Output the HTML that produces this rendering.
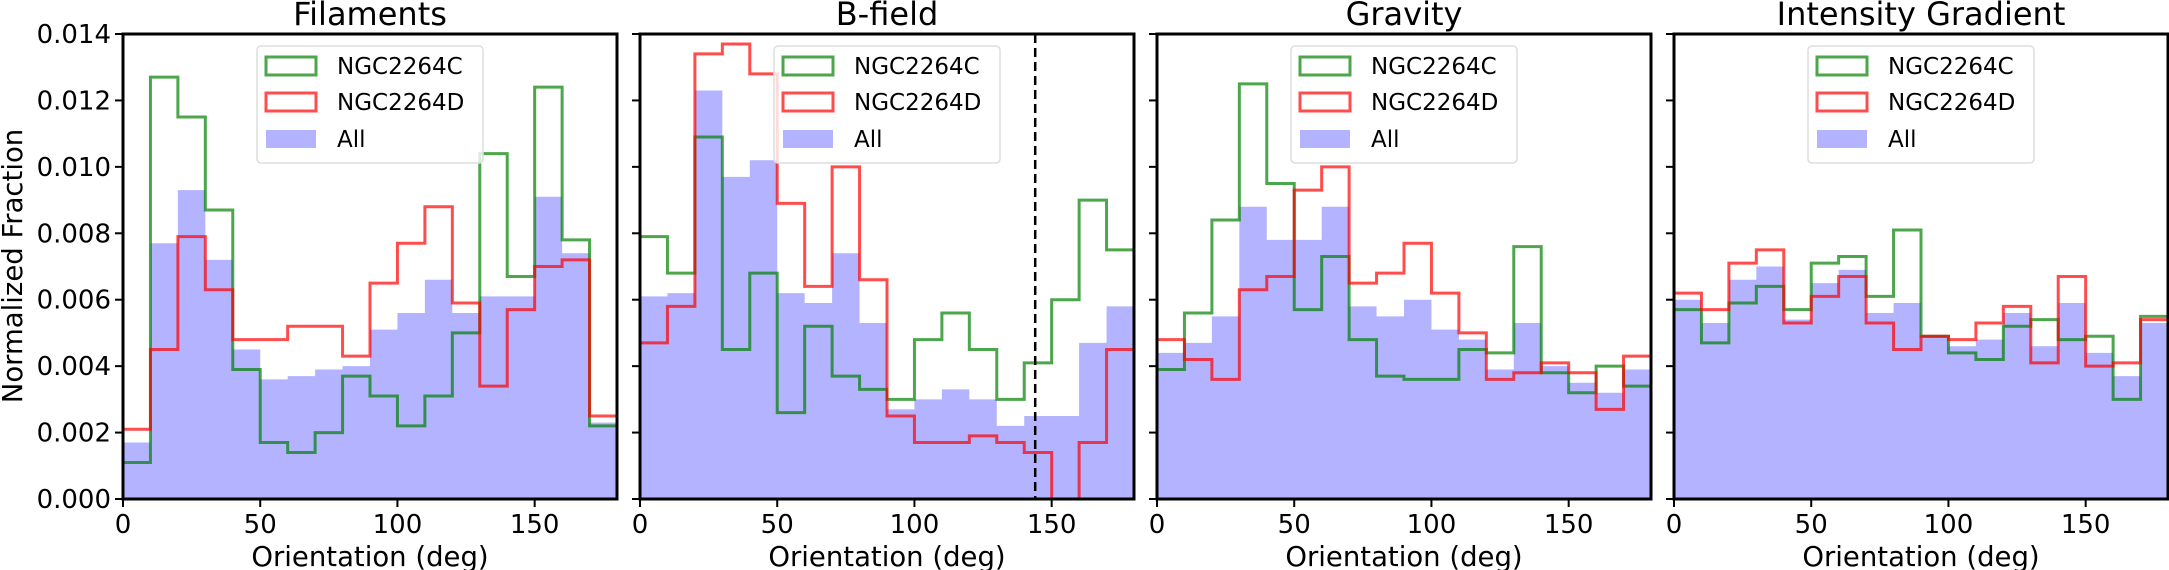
<!DOCTYPE html>
<html><head><meta charset="utf-8"><style>
body{margin:0;background:#fff;}
svg{display:block;font-family:"DejaVu Sans","Liberation Sans",sans-serif;}
</style></head><body>
<svg id="chart" width="2169" height="570" viewBox="0 0 2169 570" xmlns="http://www.w3.org/2000/svg"></svg>
<script>
const panelTitles = ["Filaments","B-field","Gravity","Intensity Gradient"];
const binEdges = [0,10,20,30,40,50,60,70,80,90,100,110,120,130,140,150,160,170,180];
const xTicks = [0,50,100,150];
const yTicks = [0,0.002,0.004,0.006,0.008,0.010,0.012,0.014];
const yTickLabels = ["0.000","0.002","0.004","0.006","0.008","0.010","0.012","0.014"];
const seriesNames = ["NGC2264C","NGC2264D","All"];
const bfieldLine = 144;

const green0 = [0.0011,0.0127,0.0115,0.0087,0.0039,0.0017,0.0014,0.0020,0.0037,0.0031,0.0022,0.0031,0.0050,0.0104,0.0067,0.0124,0.0078,0.0022];
const red0   = [0.0021,0.0045,0.0079,0.0063,0.0048,0.0048,0.0052,0.0052,0.0043,0.0065,0.0077,0.0088,0.0059,0.0034,0.0057,0.0070,0.0072,0.0025];
const all0   = [0.0017,0.0077,0.0093,0.0072,0.0045,0.0036,0.0037,0.0039,0.0040,0.0051,0.0056,0.0066,0.0056,0.0061,0.0061,0.0091,0.0074,0.0023];

const green1 = [0.0079,0.0068,0.0109,0.0045,0.0068,0.0026,0.0052,0.0037,0.0033,0.0030,0.0048,0.0056,0.0045,0.0030,0.0041,0.0060,0.0090,0.0075];
const red1   = [0.0047,0.0058,0.0134,0.0137,0.0128,0.0089,0.0064,0.0100,0.0066,0.0025,0.0017,0.0017,0.0019,0.0017,0.0014,0.0000,0.0017,0.0045];
const all1   = [0.0061,0.0062,0.0123,0.0097,0.0102,0.0062,0.0059,0.0074,0.0053,0.0027,0.0030,0.0033,0.0030,0.0022,0.0025,0.0025,0.0047,0.0058];

const green2 = [0.0039,0.0056,0.0084,0.0125,0.0095,0.0057,0.0073,0.0048,0.0037,0.0036,0.0036,0.0045,0.0044,0.0076,0.0038,0.0032,0.0040,0.0034];
const red2   = [0.0048,0.0042,0.0036,0.0063,0.0067,0.0093,0.0100,0.0065,0.0068,0.0077,0.0062,0.0050,0.0036,0.0038,0.0041,0.0038,0.0027,0.0043];
const all2   = [0.0044,0.0047,0.0055,0.0088,0.0078,0.0078,0.0088,0.0058,0.0055,0.0060,0.0051,0.0048,0.0039,0.0053,0.0040,0.0035,0.0032,0.0039];

const green3 = [0.0057,0.0047,0.0059,0.0064,0.0057,0.0071,0.0073,0.0061,0.0081,0.0049,0.0044,0.0042,0.0052,0.0054,0.0048,0.0049,0.0030,0.0055];
const red3   = [0.0062,0.0057,0.0071,0.0075,0.0053,0.0061,0.0067,0.0053,0.0045,0.0049,0.0048,0.0053,0.0058,0.0041,0.0067,0.0040,0.0041,0.0054];
const all3   = [0.0060,0.0053,0.0066,0.0070,0.0054,0.0065,0.0069,0.0056,0.0059,0.0049,0.0046,0.0048,0.0056,0.0046,0.0059,0.0044,0.0037,0.0053];

const greens=[green0,green1,green2,green3], reds=[red0,red1,red2,red3], alls=[all0,all1,all2,all3];

const NS="http://www.w3.org/2000/svg";
const svg=document.getElementById('chart');
function mk(tag,attrs,parent){const e=document.createElementNS(NS,tag);for(const k in attrs)e.setAttribute(k,attrs[k]);(parent||svg).appendChild(e);return e;}
const panelLeft=[123,640,1157,1674], PW=494, TOP=34, BOT=499;
const YMAX=0.014;

for(let p=0;p<4;p++){
  const L=panelLeft[p];
  const g=mk('g',{});
  
  
  const xs=v=>L+v/180*PW;
  const ys=v=>BOT-v/YMAX*(BOT-TOP);
  let d='M'+xs(0)+','+BOT;
  alls[p].forEach((v,i)=>{d+=' L'+xs(binEdges[i])+','+ys(v)+' L'+xs(binEdges[i+1])+','+ys(v);});
  d+=' L'+xs(180)+','+BOT+' Z';
  const fa=mk('path',{d:d,fill:'#b3b3ff',stroke:'none'},g);
  
  
  [[greens[p],'#008000','ngc2264c-histogram'],[reds[p],'#ff0000','ngc2264d-histogram']].forEach(([arr,col,name])=>{
    let s='M'+xs(0)+','+BOT;
    arr.forEach((v,i)=>{s+=' L'+xs(binEdges[i])+','+ys(v)+' L'+xs(binEdges[i+1])+','+ys(v);});
    s+=' L'+xs(180)+','+BOT;
    const pe=mk('path',{d:s,fill:'none',stroke:col,'stroke-opacity':0.7,'stroke-width':3,'stroke-linejoin':'miter'},g);
    
    
  });
  if(p===1){
    const dl=mk('line',{x1:xs(bfieldLine),x2:xs(bfieldLine),y1:TOP,y2:BOT,stroke:'#000','stroke-width':2.5,'stroke-dasharray':'9,5'},g);
    
    
  }
  const fr=mk('rect',{x:L,y:TOP,width:PW,height:BOT-TOP,fill:'none',stroke:'#000','stroke-width':3},g);
  
  
  xTicks.forEach(t=>{
    mk('line',{x1:xs(t),x2:xs(t),y1:BOT,y2:BOT+8,stroke:'#000','stroke-width':2},g);
    const tl=mk('text',{x:xs(t),y:533,'font-size':26,'text-anchor':'middle'},g);
    tl.textContent=t;
    
    
  });
  yTicks.forEach((t,i)=>{
    mk('line',{x1:L-8,x2:L,y1:ys(t),y2:ys(t),stroke:'#000','stroke-width':2},g);
    if(p===0){
      const tl=mk('text',{x:L-12,y:ys(t)+9,'font-size':26,'text-anchor':'end'},g);
      tl.textContent=yTickLabels[i];
      
      
    }
  });
  const xl=mk('text',{x:L+PW/2,y:566,'font-size':27.5,'text-anchor':'middle'},g);
  xl.textContent='Orientation (deg)';
  
  
  const tt=mk('text',{x:L+PW/2,y:25,'font-size':32,'text-anchor':'middle'},g);
  tt.textContent=panelTitles[p];
  
  
  const lg=mk('g',{},g);
  
  
  mk('rect',{x:L+134,y:46,width:226,height:117,rx:4,fill:'#fff','fill-opacity':0.8,stroke:'#ddd','stroke-width':1.5},lg);
  const lys=[57,93,130];
  seriesNames.forEach((n,i)=>{
    if(i<2) mk('rect',{x:L+143,y:lys[i],width:50,height:18,fill:'none',stroke:i===0?'#008000':'#ff0000','stroke-opacity':0.7,'stroke-width':3},lg);
    else mk('rect',{x:L+143,y:lys[i],width:50,height:18,fill:'#b3b3ff'},lg);
    const lt=mk('text',{x:L+214,y:lys[i]+17,'font-size':23},lg);
    lt.textContent=n;
    
    
  });
}
const yl=mk('text',{x:0,y:0,'font-size':27.5,'text-anchor':'middle',transform:'translate(22,266) rotate(-90)'});
yl.textContent='Normalized Fraction';


</script>
</body></html>
